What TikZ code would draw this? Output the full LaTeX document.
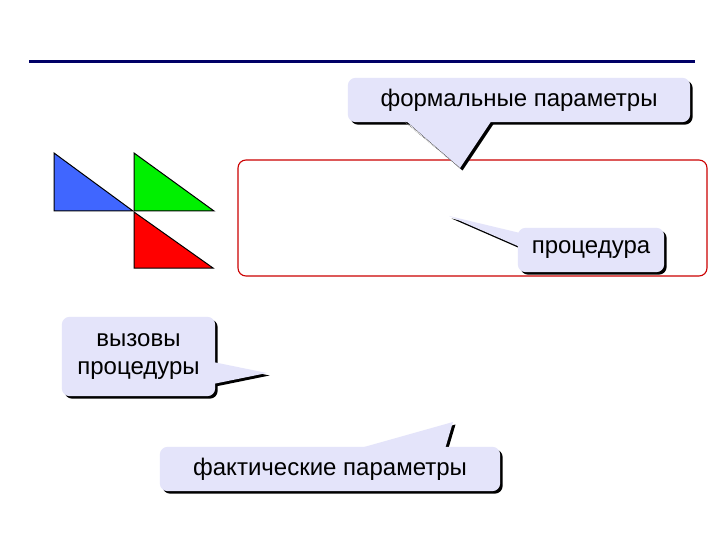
\documentclass[tikz,border=0pt]{standalone}
\usepackage{fontspec}
\setmainfont{Liberation Sans}
\pgfdeclarelayer{paper}
\pgfdeclarelayer{background}
\pgfsetlayers{paper,background,main}
\definecolor{navy}{RGB}{0,0,102}
\definecolor{callfill}{RGB}{228,228,250}
\definecolor{boxred}{RGB}{204,0,0}
\definecolor{triblue}{RGB}{64,102,255}
\definecolor{trigreen}{RGB}{0,240,0}
\definecolor{trired}{RGB}{255,0,0}
\newcommand\cshape[7]{%
  \fill[#1,rounded corners=8pt] ([xshift=#2,yshift=#3]#4.south west) rectangle ([xshift=#2,yshift=#3]#4.north east);
  \fill[#1] ([xshift=#2,yshift=#3]#5) -- ([xshift=#2,yshift=#3]#6) -- ([xshift=#2,yshift=#3]#7) -- cycle;}
\newcommand\callout[4]{%
  \cshape{black}{2.5pt}{-2.5pt}{#1}{#2}{#3}{#4}%
  \cshape{callfill}{0pt}{0pt}{#1}{#2}{#3}{#4}}
\tikzset{
  ctext/.style={inner sep=0pt, align=center, font=\fontsize{24}{28}\selectfont},
  tri/.style={draw=black, line width=1pt, line join=miter},
}
\begin{document}
\begin{tikzpicture}[x=1pt,y=-1pt]
\begin{pgfonlayer}{paper}
\useasboundingbox[fill=white] (0,0) rectangle (720,540);
\end{pgfonlayer}
% title rule
\coordinate (r1) at (29,62);
\coordinate (r2) at (695,62);
\draw[navy, line width=3pt] (r1) -- (r2);
% red procedure frame
\begin{pgfonlayer}{background}
\node[draw=boxred, line width=1.1pt, rounded corners=8pt, minimum width=469pt, minimum height=116pt, inner sep=0pt] (proc) at (472.5,218) {};
\end{pgfonlayer}
% triangles
\fill[triblue] (54,153) -- (54,211) -- (133,211) -- cycle;
\draw[tri] (54,153) -- (54,211) -- (133,211) -- cycle;
\fill[trigreen] (134,153) -- (134,211) -- (214,211) -- cycle;
\draw[tri] (134,153) -- (134,211) -- (214,211) -- cycle;
\fill[trired] (134,212) -- (134,268) -- (213,268) -- cycle;
\draw[tri] (134,212) -- (134,268) -- (213,268) -- cycle;
% callout texts
\node[ctext, minimum width=342pt, minimum height=44pt] (f1) at (519,100) {формальные параметры};
\node[ctext, minimum width=146pt, minimum height=44pt] (f2) at (591,250) {процедура};
\node[ctext, minimum width=153pt, minimum height=79pt] (f3) at (138.5,356.5) {вызовы\\процедуры};
\node[ctext, minimum width=340pt, minimum height=44pt] (f4) at (330,469) {фактические параметры};
% pointer geometry
\coordinate (a1) at (405,120); \coordinate (t1) at (460,168); \coordinate (c1) at (492,120);
\coordinate (a2) at (520,233); \coordinate (t2) at (449,216); \coordinate (c2) at (520,247);
\coordinate (a3) at (213,362); \coordinate (t3) at (267,373); \coordinate (c3) at (213,384);
\coordinate (a4) at (357,449); \coordinate (t4) at (453,422); \coordinate (c4) at (445,449);
\begin{pgfonlayer}{background}
\callout{f1}{a1}{t1}{c1}
\callout{f2}{a2}{t2}{c2}
\callout{f3}{a3}{t3}{c3}
\callout{f4}{a4}{t4}{c4}
\draw[gray, densely dotted, line width=0.7pt] ([yshift=-2pt]a1) -- (t1);
\end{pgfonlayer}
\end{tikzpicture}
\end{document}
